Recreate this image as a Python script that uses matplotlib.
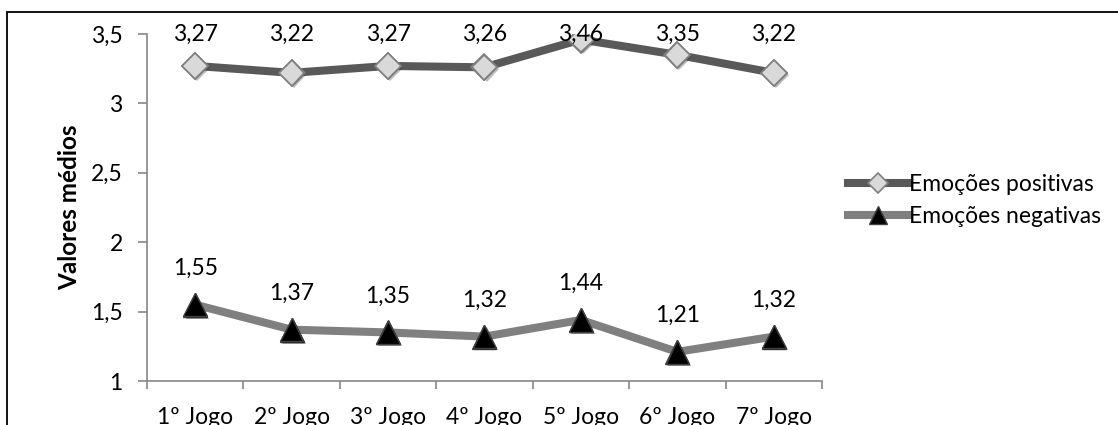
import matplotlib
matplotlib.use('Agg')
import matplotlib.pyplot as plt
import matplotlib.patheffects as pe
from matplotlib.patches import Rectangle

categories = ['1º Jogo', '2º Jogo', '3º Jogo', '4º Jogo', '5º Jogo', '6º Jogo', '7º Jogo']
positivas = [3.27, 3.22, 3.27, 3.26, 3.46, 3.35, 3.22]
negativas = [1.55, 1.37, 1.35, 1.32, 1.44, 1.21, 1.32]
y_ticks = [1, 1.5, 2, 2.5, 3, 3.5]


def fmt(v):
    return f"{v:g}".replace('.', ',')


plt.rcParams['font.family'] = ['Lato', 'DejaVu Sans']
axis_grey = '#868686'
fs = 16.5

fig = plt.figure(figsize=(11.18, 4.25), dpi=100)
ax = fig.add_axes([0.1315, 0.1035, 0.6037, 0.8165])

# outer chart frame (continues past the cropped right/bottom edge)
fig.patches.append(Rectangle((7 / 1118, -0.5), 2, 0.5 + (425 - 12) / 425,
                             transform=fig.transFigure, fill=False,
                             edgecolor='black', linewidth=1.3))

shadow = [pe.SimplePatchShadow(offset=(1.5, -1.5), alpha=0.35), pe.Normal()]
x = list(range(len(categories)))
ax.plot(x, positivas, color='#595959', linewidth=5.8, marker='D', markersize=13,
        markerfacecolor='#D9D9D9', markeredgecolor='#7f7f7f', markeredgewidth=1.2,
        label='Emoções positivas', zorder=3)
ax.plot(x, negativas, color='#808080', linewidth=5.8, marker='^', markersize=17,
        markerfacecolor='black', markeredgecolor='#404040', markeredgewidth=1,
        label='Emoções negativas', zorder=3)
# marker shadows drawn on top of the lines
ax.plot(x, positivas, linestyle='none', marker='D', markersize=13,
        markerfacecolor='#D9D9D9', markeredgecolor='#7f7f7f', markeredgewidth=1.2,
        path_effects=shadow, zorder=4)
ax.plot(x, negativas, linestyle='none', marker='^', markersize=17,
        markerfacecolor='black', markeredgecolor='#404040', markeredgewidth=1,
        path_effects=shadow, zorder=4)

# positive labels are pinned to the top of the plot area
for xi, v in zip(x, positivas):
    ax.text(xi, 3.5, fmt(v), ha='center', va='center', fontsize=fs, zorder=5)
for xi, v in zip(x, negativas):
    ax.annotate(fmt(v), (xi, v), xytext=(0, 26), textcoords='offset points',
                ha='center', va='center', fontsize=fs)

ax.set_xlim(-0.5, len(categories) - 0.5)
ax.set_ylim(1, 3.5)
ax.set_yticks(y_ticks)
ax.set_yticklabels([fmt(t) for t in y_ticks], fontsize=fs)
ax.set_xticks(x)
ax.set_xticklabels(categories, fontsize=fs)
ax.set_xticks([i - 0.5 for i in range(len(categories) + 1)], minor=True)
ax.tick_params(axis='x', which='major', length=0, pad=19)
ax.tick_params(axis='x', which='minor', length=5.5, color=axis_grey, width=1.2)
ax.tick_params(axis='y', length=6.5, color=axis_grey, width=1.2, pad=11)

for side in ('top', 'right'):
    ax.spines[side].set_visible(False)
for side in ('left', 'bottom'):
    ax.spines[side].set_color(axis_grey)
    ax.spines[side].set_linewidth(1.2)

ax.set_ylabel('Valores médios', fontsize=17.5, fontweight='bold', labelpad=7)

ax.legend(loc='center left', bbox_to_anchor=(1.0385, 0.52), frameon=False,
          fontsize=fs, handlelength=2.6, handletextpad=0.05, labelspacing=0.45,
          borderpad=0, borderaxespad=0, markerscale=0.75)

fig.savefig('out.png', dpi=100)
